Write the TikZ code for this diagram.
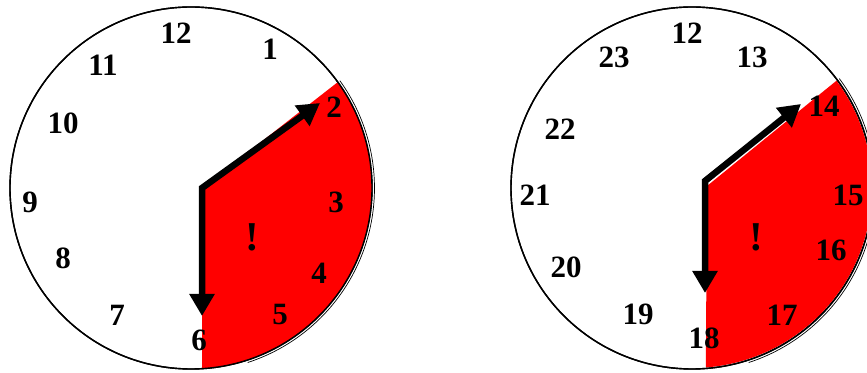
\documentclass[tikz,border=0pt]{standalone}
\usepackage{fontspec}
\setmainfont{Liberation Serif}
\usetikzlibrary{arrows.meta,calc}
\tikzset{
  dial/.style   = {draw,line width=1.4pt,fill=white},
  sector/.style = {fill=red,draw=none},
  rim/.style    = {draw,line width=0.7pt},
  hand/.style   = {line width=6.5pt,line join=miter,
                   {Triangle[length=22pt,width=24pt]}-{Triangle[length=22pt,width=24pt]}},
  hour/.style   = {font=\bfseries\fontsize{31}{31}\selectfont,inner sep=0pt},
  warn/.style   = {font=\bfseries\fontsize{41}{41}\selectfont,inner sep=0pt},
}

\begin{document}
\begin{tikzpicture}[x=1pt,y=1pt]
  \useasboundingbox (0,0) rectangle (867,372);
  \clip (0,0) rectangle (867,372);

  % 12-hour dial
  \coordinate (lc) at (191,184);
  \coordinate (lp) at (202,184);
  \coordinate (ltwo) at (320,269);
  \coordinate (lsix) at (202,56);
  \draw[dial] (lc) circle[radius=181pt];
  \fill[sector] (lp) -- ($(lc)+(35.8:181pt)$)
        arc[start angle=35.8,end angle=-86.5,radius=181pt] -- cycle;
  \draw[line width=1.4pt] (lc) circle[radius=181pt];
  \draw[rim] ($(lc)+(35.8:183.5pt)$) arc[start angle=35.8,end angle=-72,radius=183.5pt];
  \draw[hand] (ltwo) -- (lp) -- (lsix);
  \foreach \t/\px/\py in {12/176/339,1/270/323,2/334/265,3/336/170,4/319/99,
                          5/280/57,6/199/32,7/117/57,8/63/114,9/30/170,
                          10/63/249,11/103/307}
    \node[hour] (l\t) at (\px,\py) {\t};
  \node[warn] (lwarn) at (252,135) {!};

  % 24-hour dial
  \coordinate (rc) at (692,184);
  \coordinate (rp) at (705,191);
  \coordinate (rfourteen) at (801,268);
  \coordinate (reighteen) at (705,79);
  \draw[dial] (rc) circle[radius=181pt];
  \fill[sector] (707,186) -- ($(rc)+(36.6:180pt)$)
        arc[start angle=36.6,end angle=-85.6,radius=180pt] -- cycle;
  \draw[line width=1.4pt] (rc) circle[radius=181pt];
  \draw[rim] ($(rc)+(36.6:183.5pt)$) arc[start angle=36.6,end angle=-72,radius=183.5pt];
  \draw[hand] (rfourteen) -- (rp) -- (reighteen);
  \foreach \t/\px/\py in {12/687/339,13/752/315,14/824/266,15/848/177,
                          16/831/122,17/782/57,18/704/34,19/638/58,
                          20/566/105,21/535/177,22/560/243,23/614/315}
    \node[hour] (r\t) at (\px,\py) {\t};
  \node[warn] (rwarn) at (756,135) {!};
\end{tikzpicture}
\end{document}
